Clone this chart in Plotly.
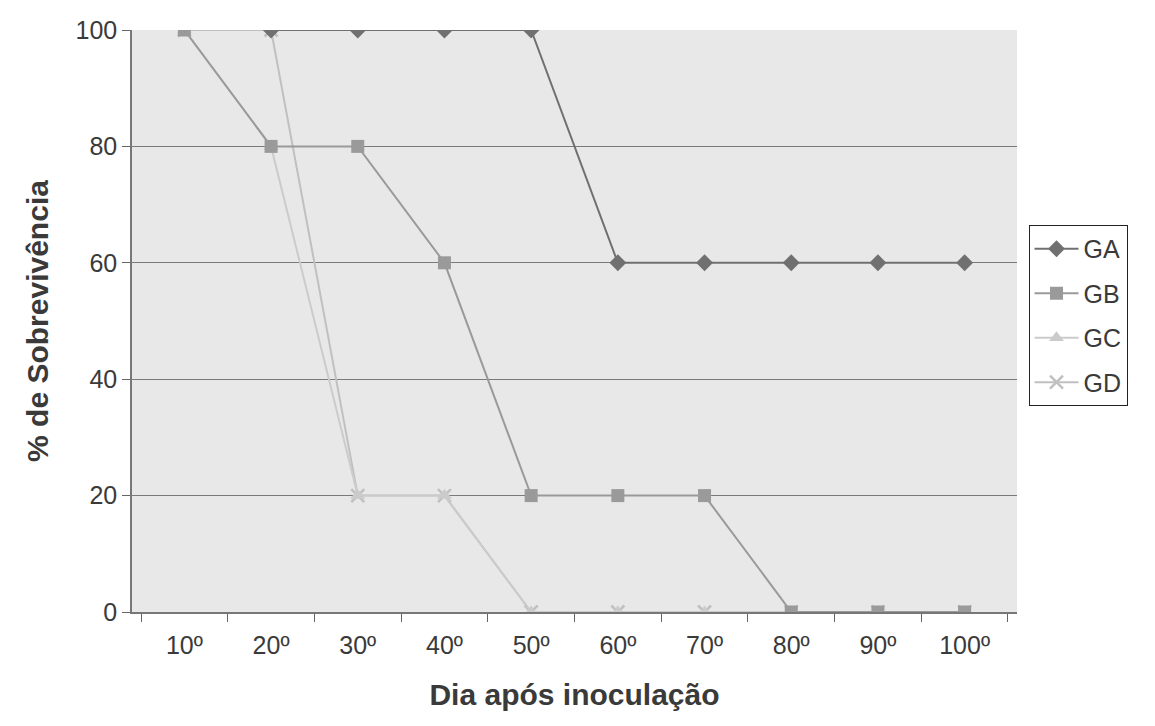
import plotly.graph_objects as go

# Survival (%) per day after inoculation for four groups
dias = ["10º", "20º", "30º", "40º", "50º", "60º", "70º", "80º", "90º", "100º"]
ga = [None, 100, 100, 100, 100, 60, 60, 60, 60, 60]
gb = [100, 80, 80, 60, 20, 20, 20, 0, 0, 0]
gc = [100, 80, 20, 20, 0, 0, 0, 0, 0, 0]
gd = [100, 100, 20, 20, 0, 0, 0, 0, 0, 0]

series = [
    ("GA", ga, "#707070", "diamond"),
    ("GB", gb, "#9a9a9a", "square"),
    ("GC", gc, "#cbcbcb", "triangle-up"),
    ("GD", gd, "#c0c0c0", "x-thin"),
]

fig = go.Figure()
# Draw lightest groups first so the darker lines sit on top;
# legendrank keeps the legend in GA..GD order
for rank, (name, vals, color, sym) in reversed(list(enumerate(series))):
    mk = dict(symbol=sym, size=13, color=color)
    if sym == "x-thin":
        mk["line"] = dict(color=color, width=2.5)
    fig.add_trace(go.Scatter(
        x=dias, y=vals, name=name, mode="lines+markers",
        line=dict(color=color, width=2), marker=mk,
        legendgroup=name, legendrank=rank + 1, connectgaps=False,
    ))

font_family = "Liberation Sans, Arial, sans-serif"
text_color = "#3a3a3a"
fig.update_layout(
    width=1155, height=726,
    margin=dict(l=132, r=138, t=30, b=114),
    paper_bgcolor="white",
    plot_bgcolor="#e8e8e8",
    font=dict(family=font_family, size=25, color=text_color),
    showlegend=True,
    legend=dict(
        x=1.013, y=0.665, xanchor="left", yanchor="top",
        bordercolor="#222222", borderwidth=1, bgcolor="white",
        font=dict(size=25, color=text_color),
        traceorder="grouped", tracegroupgap=9,
        itemwidth=44,
    ),
    xaxis=dict(
        type="category", categoryorder="array", categoryarray=dias,
        tickson="boundaries", ticks="outside", ticklen=8,
        tickcolor="#666666", showline=True, linecolor="#777777",
        linewidth=1.5, showgrid=False, ticklabelstandoff=10,
        title=dict(text="<b>Dia após inoculação</b>", standoff=26,
                   font=dict(size=30, color=text_color)),
        tickfont=dict(size=25, color=text_color),
    ),
    yaxis=dict(
        range=[0, 100], tickvals=[0, 20, 40, 60, 80, 100],
        ticks="outside", ticklen=8, tickcolor="#666666",
        showline=True, linecolor="#777777", linewidth=1.5,
        showgrid=True, gridcolor="#7a7a7a", gridwidth=1,
        zeroline=False,
        title=dict(text="<b>% de Sobrevivência</b>", standoff=18,
                   font=dict(size=30, color=text_color)),
        tickfont=dict(size=25, color=text_color),
    ),
)

fig.write_html("out.html")
